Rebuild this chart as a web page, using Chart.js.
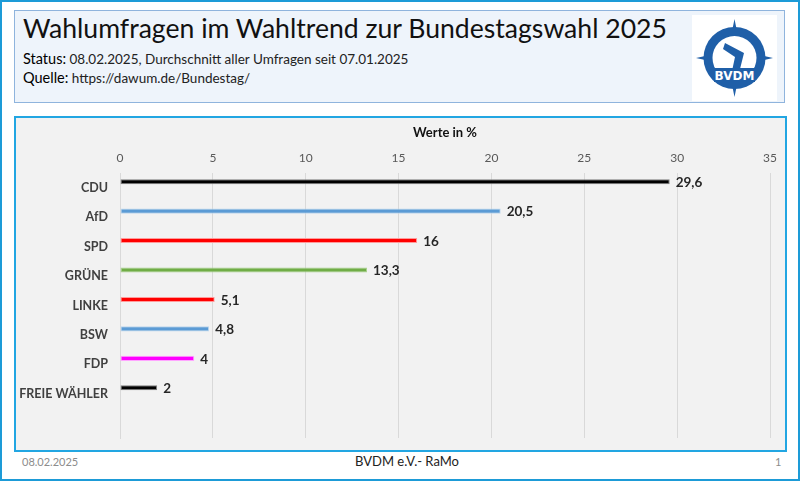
<!DOCTYPE html>
<html>
<head>
<meta charset="utf-8">
<script src="https://cdn.jsdelivr.net/npm/chart.js@4/dist/chart.umd.min.js"></script>
<style>
  html, body { margin: 0; padding: 0; background: #fff; }
  body { width: 800px; height: 481px; position: relative; overflow: hidden; font-family: Lato, "Open Sans", sans-serif; }
  .frame { position: absolute; left: 0; top: 0; width: 796px; height: 477px; border: 2px solid #1d9bd7; }
  .head { position: absolute; left: 14px; top: 10px; width: 769px; height: 91px; background: #eef4fb; border: 1px solid #8fb4dd; }
  .title { position: absolute; left: 8px; top: 1px; font-size: 26.6px; color: #111; white-space: nowrap; }
  .sub { position: absolute; left: 8px; font-size: 13.5px; color: #222; white-space: nowrap; }
  .sub b { font-weight: normal; color: #000; font-size: 14.5px; }
  .logo { position: absolute; left: 677px; top: 4px; width: 85px; height: 86px; background: #fff; }
  .chartbox { position: absolute; left: 14px; top: 116px; width: 769px; height: 332px; background: #f2f2f2; border: 2px solid #22a6e2; }
  .foot { position: absolute; top: 455px; font-size: 11px; color: #8c8c8c; white-space: nowrap; }
</style>
</head>
<body>
<div class="frame"></div>
<div class="head">
  <div class="title">Wahlumfragen im Wahltrend zur Bundestagswahl 2025</div>
  <div class="sub" style="top:39px"><b>Status:</b> 08.02.2025, Durchschnitt aller Umfragen seit 07.01.2025</div>
  <div class="sub" style="top:58px"><b>Quelle:</b> https://dawum.de/Bundestag/</div>
  <div class="logo">
    <svg width="85" height="86" viewBox="0 0 85 86">
      <polygon points="42.5,4 49,36 81,43 49,50 42.5,82 36,50 4,43 36,36" fill="#1f5fa8"/>
      <circle cx="42.5" cy="43" r="31" fill="#1f5fa8"/>
      <circle cx="42.5" cy="43" r="22" fill="#fff"/>
      <path d="M33 28 L52 38 L47 58 L40 56 L43 42 L31 34 Z" fill="#1f5fa8"/>
      <rect x="22" y="53" width="41" height="14" fill="#1f5fa8"/>
      <text x="42.5" y="65" font-family="DejaVu Sans" font-weight="bold" font-size="12" fill="#fff" text-anchor="middle">BVDM</text>
    </svg>
  </div>
</div>
<div class="chartbox"><canvas id="chart" width="769" height="332"></canvas></div>
<div class="foot" style="left:22px">08.02.2025</div>
<div class="foot" style="left:7px; width:800px; text-align:center; color:#222; font-size:13px; top:453px">BVDM e.V.- RaMo</div>
<div class="foot" style="left:775px">1</div>

<script>
// Daten aus dem Bild
const parteien = ['CDU', 'AfD', 'SPD', 'GRÜNE', 'LINKE', 'BSW', 'FDP', 'FREIE WÄHLER'];
const werte = [29.6, 20.5, 16, 13.3, 5.1, 4.8, 4, 2];
const farben = ['#000000', '#5b9bd5', '#ff0000', '#70ad47', '#ff0000', '#5b9bd5', '#ff00ff', '#000000'];
const rahmen = ['#7f7f7f', '#bdd7ee', '#ff9b9b', '#a9d18e', '#ff9b9b', '#bdd7ee', '#ffa6ff', '#7f7f7f'];
const xTicks = [0, 5, 10, 15, 20, 25, 30, 35];

// Beschriftung rechts neben den Balken
const wertLabels = {
  id: 'wertLabels',
  afterDatasetsDraw(chart) {
    const ctx = chart.ctx;
    const meta = chart.getDatasetMeta(0);
    ctx.save();
    ctx.font = 'bold 13.5px Lato';
    ctx.fillStyle = '#262626';
    ctx.textBaseline = 'middle';
    meta.data.forEach((bar, i) => {
      ctx.fillText(String(werte[i]).replace('.', ','), bar.x + 6, bar.y + 1);
    });
    ctx.restore();
  }
};

new Chart(document.getElementById('chart'), {
  type: 'bar',
  data: {
    labels: [...parteien, ''],
    datasets: [
      { data: werte, backgroundColor: farben, borderColor: rahmen, borderWidth: 1, borderSkipped: false },
      { data: [] }
    ]
  },
  options: {
    indexAxis: 'y',
    responsive: false,
    animation: false,
    categoryPercentage: 0.82,
    barPercentage: 0.42,
    layout: { padding: { left: 0, right: 15, top: 0, bottom: 12 } },
    plugins: { legend: { display: false }, tooltip: { enabled: false } },
    scales: {
      x: {
        position: 'top',
        min: 0, max: 35,
        afterBuildTicks: s => { s.ticks = xTicks.map(v => ({ value: v })); },
        afterFit: s => { s.height = 55; },
        ticks: { color: '#595959', font: { family: 'Lato', size: 12 }, padding: 8 },
        grid: { color: '#d9d9d9', drawTicks: false },
        border: { display: false },
        title: { display: true, text: 'Werte in %', color: '#111', font: { family: 'Lato', size: 13, weight: 'bold' }, padding: { top: 7, bottom: 0 } }
      },
      y: {
        afterFit: s => { s.width = 104; s.paddingTop = 0; s.paddingBottom = 0; },
        ticks: { color: '#404040', font: { family: 'Lato', size: 12.5, weight: 'bold' }, padding: 12 },
        grid: { display: false, drawTicks: false },
        border: { color: '#d9d9d9' }
      }
    }
  },
  plugins: [wertLabels]
});
</script>
</body>
</html>
